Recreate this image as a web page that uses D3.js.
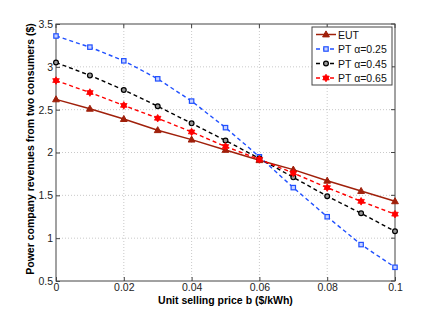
<!DOCTYPE html>
<html>
<head>
<meta charset="utf-8">
<script src="https://cdn.jsdelivr.net/npm/d3@7"></script>
<style>
  body { margin: 0; background: #fff; }
  text { font-family: "Liberation Sans", Arial, sans-serif; }
</style>
</head>
<body>
<svg></svg>
<script>
'use strict';

const svgWidth = 436;
const svgHeight = 316;

const prices = [0, 0.01, 0.02, 0.03, 0.04, 0.05, 0.06, 0.07, 0.08, 0.09, 0.1];
const eut = [2.62, 2.51, 2.39, 2.26, 2.15, 2.03, 1.91, 1.80, 1.67, 1.55, 1.43];
const pt025 = [3.36, 3.23, 3.07, 2.86, 2.60, 2.29, 1.95, 1.59, 1.25, 0.925, 0.66];
const pt045 = [3.05, 2.90, 2.73, 2.54, 2.34, 2.14, 1.93, 1.71, 1.49, 1.29, 1.08];
const pt065 = [2.84, 2.70, 2.55, 2.40, 2.24, 2.07, 1.92, 1.76, 1.59, 1.43, 1.28];
const seriesNames = ['EUT', 'PT \u03b1=0.25', 'PT \u03b1=0.45', 'PT \u03b1=0.65'];
const xTicks = [0, 0.02, 0.04, 0.06, 0.08, 0.1];
const yTicks = [0.5, 1, 1.5, 2, 2.5, 3, 3.5];

const margin = { left: 56, right: 41, top: 24, bottom: 35 };

const svg = d3.select('svg')
  .attr('width', svgWidth)
  .attr('height', svgHeight);

const x = d3.scaleLinear().domain([0, 0.1])
  .range([margin.left, svgWidth - margin.right]);
const y = d3.scaleLinear().domain([0.5, 3.5])
  .range([svgHeight - margin.bottom, margin.top]);

// grid
const gridG = svg.append('g')
  .attr('stroke', '#bbb')
  .attr('stroke-width', 0.8)
  .attr('stroke-dasharray', '1,2');

gridG.selectAll('.gx')
  .data(xTicks.slice(1, -1))
  .join('line')
  .attr('class', 'gx')
  .attr('x1', d => x(d)).attr('x2', d => x(d))
  .attr('y1', y(0.5)).attr('y2', y(3.5));

gridG.selectAll('.gy')
  .data(yTicks.slice(1, -1))
  .join('line')
  .attr('class', 'gy')
  .attr('x1', x(0)).attr('x2', x(0.1))
  .attr('y1', d => y(d)).attr('y2', d => y(d));

// axes with inward ticks
const xAxis = svg.append('g')
  .attr('transform', `translate(0,${y(0.5)})`)
  .call(d3.axisBottom(x).tickValues(xTicks).tickSize(-4).tickPadding(3)
    .tickFormat(d => d === 0 ? '0' : d3.format('~g')(d)));
const yAxis = svg.append('g')
  .attr('transform', `translate(${x(0)},0)`)
  .call(d3.axisLeft(y).tickValues(yTicks).tickSize(-4).tickPadding(3)
    .tickFormat(d3.format('~g')));

[xAxis, yAxis].forEach(a => {
  a.select('.domain').remove();
  a.selectAll('line').attr('stroke', '#444');
  a.selectAll('text').attr('font-size', 10.5).attr('fill', '#222');
});

// top/right ticks
svg.append('g').selectAll('line')
  .data(xTicks)
  .join('line')
  .attr('x1', d => x(d)).attr('x2', d => x(d))
  .attr('y1', y(3.5)).attr('y2', y(3.5) + 4)
  .attr('stroke', '#444');
svg.append('g').selectAll('line')
  .data(yTicks)
  .join('line')
  .attr('x1', x(0.1)).attr('x2', x(0.1) - 4)
  .attr('y1', d => y(d)).attr('y2', d => y(d))
  .attr('stroke', '#444');

// frame
svg.append('rect')
  .attr('x', x(0)).attr('y', y(3.5))
  .attr('width', x(0.1) - x(0)).attr('height', y(0.5) - y(3.5))
  .attr('fill', 'none')
  .attr('stroke', '#444')
  .attr('stroke-width', 1);

// labels
svg.append('text')
  .attr('x', (x(0) + x(0.1)) / 2)
  .attr('y', 304)
  .attr('text-anchor', 'middle')
  .attr('font-size', 10.5)
  .attr('font-weight', 'bold')
  .text('Unit selling price b ($/kWh)');

svg.append('text')
  .attr('transform', 'translate(34,149) rotate(-90)')
  .attr('text-anchor', 'middle')
  .attr('font-size', 10.5)
  .attr('font-weight', 'bold')
  .text('Power company revenues from two consumers ($)');

// series
const series = [
  { name: seriesNames[0], values: eut, color: '#a0200b', dash: null, marker: 'triangle', width: 1.5 },
  { name: seriesNames[1], values: pt025, color: '#2050ff', dash: '4,3', marker: 'square', width: 1.4 },
  { name: seriesNames[2], values: pt045, color: '#000', dash: '4,3', marker: 'circle', width: 1.4 },
  { name: seriesNames[3], values: pt065, color: '#ff0000', dash: '4,3', marker: 'star', width: 1.4 }
];

const line = d3.line()
  .x(d => x(d[0]))
  .y(d => y(d[1]));

function hexagram(cx, cy, r) {
  const tri = a0 => d3.range(3).map(k => {
    const a = a0 + k * 2 * Math.PI / 3;
    return [cx + r * Math.cos(a), cy + r * Math.sin(a)];
  });
  const t1 = tri(-Math.PI / 2), t2 = tri(Math.PI / 2);
  return 'M' + t1.join('L') + 'Z' + 'M' + t2.join('L') + 'Z';
}

function drawMarker(g, type, color, cx, cy) {
  if (type === 'triangle') {
    g.append('path')
      .attr('d', `M${cx},${cy - 3.6}L${cx + 3.4},${cy + 2.4}L${cx - 3.4},${cy + 2.4}Z`)
      .attr('fill', color).attr('stroke', color);
  } else if (type === 'square') {
    g.append('rect')
      .attr('x', cx - 2.2).attr('y', cy - 2.2)
      .attr('width', 4.4).attr('height', 4.4)
      .attr('fill', '#c8d2ff').attr('stroke', color).attr('stroke-width', 1.2);
  } else if (type === 'circle') {
    g.append('circle')
      .attr('cx', cx).attr('cy', cy).attr('r', 2.4)
      .attr('fill', '#999').attr('stroke', color).attr('stroke-width', 1.2);
  } else {
    g.append('path')
      .attr('d', hexagram(cx, cy, 3.8))
      .attr('fill', color).attr('stroke', color).attr('stroke-width', 0.8);
  }
}

series.forEach(s => {
  const pts = prices.map((p, i) => [p, s.values[i]]);
  const g = svg.append('g');
  g.append('path')
    .datum(pts)
    .attr('d', line)
    .attr('fill', 'none')
    .attr('stroke', s.color)
    .attr('stroke-width', s.width)
    .attr('stroke-dasharray', s.dash);
  pts.forEach(p => drawMarker(g, s.marker, s.color, x(p[0]), y(p[1])));
});

// legend
const lx = 312, ly = 27;
const legendG = svg.append('g');
legendG.append('rect')
  .attr('x', lx).attr('y', ly)
  .attr('width', 80).attr('height', 58)
  .attr('fill', '#fff')
  .attr('stroke', '#444');

series.forEach((s, i) => {
  const cy = ly + 7.5 + i * 14.5;
  legendG.append('line')
    .attr('x1', lx + 4).attr('x2', lx + 24)
    .attr('y1', cy).attr('y2', cy)
    .attr('stroke', s.color)
    .attr('stroke-width', s.width)
    .attr('stroke-dasharray', s.dash);
  drawMarker(legendG, s.marker, s.color, lx + 14, cy);
  legendG.append('text')
    .attr('x', lx + 26).attr('y', cy + 4)
    .attr('font-size', 10.5)
    .attr('fill', '#111')
    .text(s.name);
});
</script>
</body>
</html>
